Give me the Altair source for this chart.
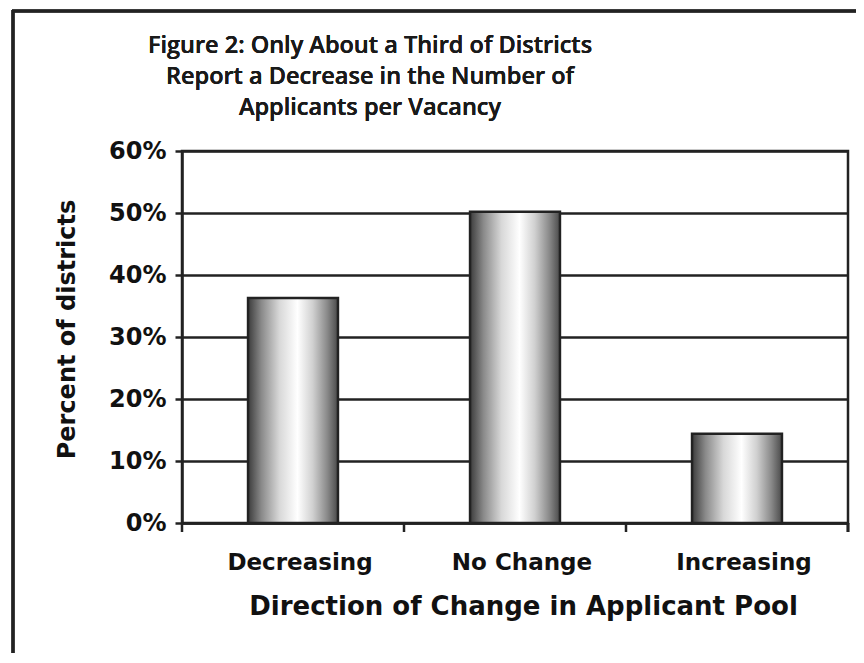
import altair as alt
import pandas as pd

categories = ["Decreasing", "No Change", "Increasing"]
percents = [0.363, 0.502, 0.144]
y_ticks = [0, 0.1, 0.2, 0.3, 0.4, 0.5, 0.6]
title_lines = [
    "Figure 2: Only About a Third of Districts",
    "Report a Decrease in the Number of",
    "Applicants per Vacancy",
]
x_title = "Direction of Change in Applicant Pool"
y_title = "Percent of districts"

df = pd.DataFrame({"cat": categories, "pct": percents})

W, H = 666, 372
FONT = "DejaVu Sans"
INK = "#222222"

grad = alt.LinearGradient(
    gradient="linear",
    x1=0, x2=1, y1=0, y2=0,
    stops=[
        alt.GradientStop(color="#3c3c3c", offset=0),
        alt.GradientStop(color="#8a8a8a", offset=0.15),
        alt.GradientStop(color="#d8d8d8", offset=0.35),
        alt.GradientStop(color="#ffffff", offset=0.55),
        alt.GradientStop(color="#d0d0d0", offset=0.72),
        alt.GradientStop(color="#8a8a8a", offset=0.88),
        alt.GradientStop(color="#4a4a4a", offset=1),
    ],
)

xscale = alt.Scale(domain=categories, paddingInner=0, paddingOuter=0)
yscale = alt.Scale(domain=[0, 0.6], nice=False)

bars = alt.Chart(df).mark_bar(
    width={"band": 0.405}, fill=grad, stroke=INK, strokeWidth=2.5
).encode(
    x=alt.X("cat:N", scale=xscale, sort=categories,
            axis=alt.Axis(title=x_title, ticks=False, domain=True, labelAngle=0,
                          labelFontSize=23, titleFontSize=26, labelOffset=7,
                          labelPadding=28, titlePadding=19, titleX=341,
                          grid=False)),
    y=alt.Y("pct:Q", scale=yscale,
            axis=alt.Axis(title=y_title, values=y_ticks, format=".0%",
                          labelFontSize=24, titleFontSize=24, titleY=178,
                          tickSize=7, tickWidth=2.5, tickColor=INK,
                          labelPadding=9, titlePadding=29,
                          grid=True, gridColor=INK, gridWidth=2.5)),
)

xticks = alt.Chart(df).mark_rule(color=INK, strokeWidth=2.5).encode(
    x=alt.X("cat:N", scale=xscale, sort=categories, bandPosition=0),
    y=alt.value(H),
    y2=alt.value(H + 9),
)
xtick_end = alt.Chart(df).mark_rule(color=INK, strokeWidth=2.5).encode(
    x=alt.value(W), y=alt.value(H), y2=alt.value(H + 9)
)

frame_left = alt.Chart(df).mark_rule(color=INK, strokeWidth=3).encode(
    x=alt.value(-169), y=alt.value(-141), y2=alt.value(H + 200)
)
frame_top = alt.Chart(df).mark_rule(color=INK, strokeWidth=3).encode(
    x=alt.value(-170), x2=alt.value(W + 60), y=alt.value(-140)
)

title = alt.Chart(df).mark_text(
    text=title_lines, font="Open Sans", fontSize=23.5, fontWeight=600, color="#1a1a1a",
    lineHeight=31, align="center", baseline="top",
).encode(x=alt.value(188), y=alt.value(-117))

chart = alt.layer(frame_left, frame_top, title, bars, xticks, xtick_end).properties(
    width=W, height=H,
    autosize=alt.AutoSizeParams(type="none"),
    padding={"left": 174, "top": 143, "right": 8, "bottom": 130},
    background="white",
).configure_view(
    stroke=INK, strokeWidth=2.5
).configure_axis(
    domainColor=INK, domainWidth=2.5,
    labelFont=FONT, labelFontWeight="bold", labelColor="#111111",
    titleFont=FONT, titleFontWeight="bold", titleColor="#111111",
)

chart.save("out.html", embed_options={"renderer": "svg", "actions": False})
